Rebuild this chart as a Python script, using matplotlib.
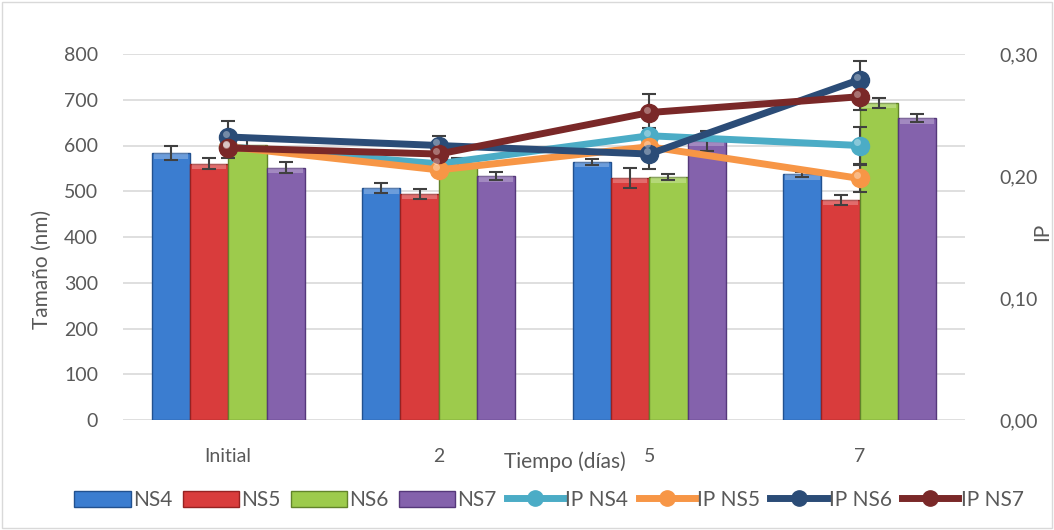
import matplotlib
matplotlib.use("Agg")
import matplotlib.pyplot as plt
import numpy as np
from matplotlib.patches import Rectangle, Patch
from matplotlib.lines import Line2D

categories = ["Initial", "2", "5", "7"]
bar_names = ["NS4", "NS5", "NS6", "NS7"]
ns4 = [583, 507, 564, 537]
ns5 = [560, 494, 529, 481]
ns6 = [602, 562, 531, 693]
ns7 = [551, 533, 610, 660]
ns4_err = [15, 10, 6, 6]
ns5_err = [12, 10, 22, 10]
ns6_err = [10, 10, 7, 10]
ns7_err = [12, 8, 22, 8]

ip_names = ["IP NS4", "IP NS5", "IP NS6", "IP NS7"]
ip_ns4 = [0.224, 0.210, 0.233, 0.225]
ip_ns5 = [0.224, 0.205, 0.224, 0.198]
ip_ns6 = [0.232, 0.225, 0.218, 0.279]
ip_ns7 = [0.223, 0.218, 0.252, 0.265]
ip_ns4_err = [0.004, 0.004, 0.006, 0.0155]
ip_ns5_err = [0.004, 0.004, 0.004, 0.011]
ip_ns6_err = [0.013, 0.008, 0.012, 0.015]
ip_ns7_err = [0.008, 0.006, 0.015, 0.011]

left_ticks = [0, 100, 200, 300, 400, 500, 600, 700, 800]
right_ticks = [0.0, 0.10, 0.20, 0.30]
right_tick_labels = ["0,00", "0,10", "0,20", "0,30"]

bar_colors = ["#3B7DD0", "#D93C3C", "#9DCB4C", "#8462AC"]
bar_edges = ["#22518F", "#962222", "#62842A", "#55387A"]
line_colors = ["#4BACC6", "#F79646", "#2B4C77", "#7A2828"]

txt = "#595959"
plt.rcParams['font.family'] = ['Lato', 'DejaVu Sans']

fig = plt.figure(figsize=(10.54, 5.30), dpi=100)
ax = fig.add_axes([123/1054, 1-420/530, (965-123)/1054, (420-54)/530])
ax2 = ax.twinx()

x = np.arange(len(categories))
bw = 0.182
bars = [ns4, ns5, ns6, ns7]
errs = [ns4_err, ns5_err, ns6_err, ns7_err]
for i in range(4):
    xi = x + (i - 1.5) * bw
    ax.bar(xi, bars[i], width=bw, color=bar_colors[i], edgecolor=bar_edges[i], linewidth=1.0, zorder=3)
    # bevel highlight
    ax.bar(xi, [12]*4, bottom=np.array(bars[i]) - 12, width=bw*0.9, color="white", alpha=0.25, linewidth=0, zorder=3.5)
    ax.errorbar(xi, bars[i], yerr=errs[i], fmt="none", ecolor="#404040", elinewidth=1.5, capsize=5, capthick=1.5, zorder=4)

ax.set_xlim(-0.5, 3.5)
ax.set_ylim(0, 800)
ax.set_yticks(left_ticks)
ax.grid(axis="y", color="#D9D9D9", linewidth=1.2, zorder=0)
ax.set_axisbelow(True)
for s in ax.spines.values():
    s.set_visible(False)
ax.tick_params(axis="y", length=0, labelsize=14, labelcolor=txt, pad=18)
ax.tick_params(axis="x", length=0, labelsize=14, labelcolor=txt, pad=20)
ax.set_xticks(x)
ax.set_xticklabels(categories)

ips = [ip_ns4, ip_ns5, ip_ns6, ip_ns7]
ip_errs = [ip_ns4_err, ip_ns5_err, ip_ns6_err, ip_ns7_err]
for i in range(4):
    ax2.errorbar(x, ips[i], yerr=ip_errs[i], fmt="none", ecolor="#404040", elinewidth=1.5, capsize=5, capthick=1.5, zorder=5)
    ax2.plot(x, ips[i], color=line_colors[i], linewidth=5, marker="o", markersize=13,
             markerfacecolor=line_colors[i], markeredgecolor=line_colors[i], zorder=6)
    ax2.plot(x - 0.012, np.array(ips[i]) + 0.0025, linestyle="none", marker="o", markersize=5,
             markerfacecolor="white", markeredgewidth=0, alpha=0.35, zorder=7)
ax2.set_ylim(0, 0.30)
ax2.set_yticks(right_ticks)
ax2.set_yticklabels(right_tick_labels)
for s in ax2.spines.values():
    s.set_visible(False)
ax2.tick_params(axis="y", length=0, labelsize=14, labelcolor=txt, pad=25)

fig.text(42/1054, 1-269/530, "Tamaño (nm)", rotation=90, ha="center", va="center", fontsize=15, color=txt)
fig.text(1042/1054, 1-232/530, "IP", rotation=90, ha="center", va="center", fontsize=15, color=txt)
fig.text(565/1054, 1-462/530, "Tiempo (días)", ha="center", va="center", fontsize=15, color=txt)

handles = []
for i in range(4):
    handles.append(Patch(facecolor=bar_colors[i], edgecolor=bar_edges[i]))
for i in range(4):
    handles.append(Line2D([0], [0], color=line_colors[i], linewidth=5, marker="o", markersize=11))
fig.legend(handles, bar_names + ip_names, loc="center", bbox_to_anchor=(549/1054, 1-500/530), ncol=8,
           frameon=False, fontsize=15, labelcolor=txt, handlelength=2.7, handleheight=0.8,
           handletextpad=0.1, columnspacing=0.5)

fig.patches.append(Rectangle((0.002, 0.003), 0.996, 0.994, transform=fig.transFigure, fill=False,
                             edgecolor="#D9D9D9", linewidth=1))

fig.savefig("out.png", dpi=100)
